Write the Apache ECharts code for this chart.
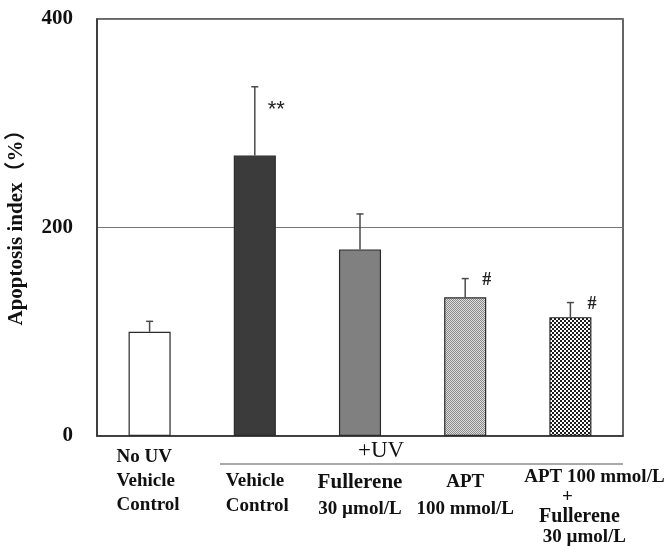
<!DOCTYPE html>
<html>
<head>
<meta charset="utf-8">
<script src="https://cdn.jsdelivr.net/npm/echarts@6/dist/echarts.min.js"></script>
<style>html,body{margin:0;padding:0;background:#fff}#c{width:669px;height:546px}</style>
</head>
<body>
<div id="c"></div>
<script>
const categories = ['No UV\nVehicle\nControl', 'Vehicle\nControl', 'Fullerene\n30 µmol/L', 'APT\n100 mmol/L', 'APT 100 mmol/L\n+\nFullerene\n30 µmol/L'];
const means = [100, 269, 179, 133, 114];
const errors = [10, 66, 34, 18, 14];
const significance = ['', '**', '', '#', '#'];
const yMin = 0, yMax = 400, yInterval = 200;
const groupLabel = '+UV';
const yName = 'Apoptosis index（%）';

function pattern(w, h, draw) {
  const c = document.createElement('canvas');
  c.width = w; c.height = h;
  const ctx = c.getContext('2d');
  draw(ctx);
  return { image: c, repeat: 'repeat' };
}
const aptFill = pattern(2, 2, ctx => {
  ctx.fillStyle = '#dedede'; ctx.fillRect(0, 0, 2, 2);
  ctx.fillStyle = '#8a8a8a'; ctx.fillRect(0, 0, 1, 1); ctx.fillRect(1, 1, 1, 1);
});
const comboFill = pattern(4, 4, ctx => {
  ctx.fillStyle = '#ffffff'; ctx.fillRect(0, 0, 4, 4);
  ctx.fillStyle = '#1e1e1e'; ctx.fillRect(0, 0, 2, 2); ctx.fillRect(2, 2, 2, 2);
});
const fills = ['#ffffff', '#3b3b3b', '#808080', aptFill, comboFill];

const serif = '"Liberation Serif", "Times New Roman", serif';
const rich = {
  g: { height: 24 },
  gs: { height: 22 },
  l: { fontFamily: serif, fontWeight: 'bold', fontSize: 19, lineHeight: 24, width: 66, align: 'left', color: '#111' },
  v: { fontFamily: serif, fontWeight: 'bold', fontSize: 19, lineHeight: 25, width: 66, align: 'left', color: '#111', padding: [0, 0, 0, 8] },
  big: { fontFamily: serif, fontWeight: 'bold', fontSize: 21, lineHeight: 27, color: '#111' },
  n: { fontFamily: serif, fontWeight: 'bold', fontSize: 19, lineHeight: 27, color: '#111' },
  c1: { fontFamily: serif, fontWeight: 'bold', fontSize: 19, lineHeight: 20, color: '#111', padding: [0, 0, 0, 48] },
  cp: { fontFamily: serif, fontWeight: 'bold', fontSize: 19, lineHeight: 20, color: '#111', padding: [0, 6, 0, 0] },
  c: { fontFamily: serif, fontWeight: 'bold', fontSize: 19, lineHeight: 20, color: '#111', padding: [0, 0, 0, 28] },
  cb: { fontFamily: serif, fontWeight: 'bold', fontSize: 20, lineHeight: 20, color: '#111', padding: [0, 0, 0, 18] }
};
const lineStyles = [
  ['l', 'l', 'l'],
  ['g', 'v', 'v'],
  ['g', 'big', 'n'],
  ['g', 'n', 'n'],
  ['gs', 'c1', 'cp', 'cb', 'c']
];

function fmt(value, index) {
  const lines = value.split('\n');
  const st = lineStyles[index];
  const out = [];
  let k = 0;
  if (st[0] === 'g' || st[0] === 'gs') { out.push('{' + st[0] + '|}'); k = 1; }
  lines.forEach((ln, i) => out.push('{' + st[i + k] + '|' + ln + '}'));
  return out.join('\n');
}

const chart = echarts.init(document.getElementById('c'), null, { renderer: 'canvas' });
chart.setOption({
  animation: false,
  backgroundColor: '#fff',
  grid: { left: 97, right: 46, top: 19, bottom: 110, containLabel: false, outerBoundsMode: 'none', show: true, borderColor: '#333', borderWidth: 1.5, backgroundColor: 'transparent' },
  xAxis: {
    type: 'category',
    data: categories,
    axisLine: { lineStyle: { color: '#333', width: 1.5 } },
    axisTick: { show: false },
    axisLabel: { interval: 0, margin: 9, formatter: fmt, rich: rich }
  },
  yAxis: {
    type: 'value', min: yMin, max: yMax, interval: yInterval,
    name: yName, nameLocation: 'middle', nameGap: 70, nameRotate: 90,
    nameTextStyle: { fontFamily: '"Liberation Serif", "Noto Sans CJK SC", serif', fontWeight: 'bold', fontSize: 21, color: '#111', padding: [0, 0, 0, 10] },
    axisLine: { show: true, lineStyle: { color: '#333', width: 1.5 } },
    axisTick: { show: false },
    splitLine: { lineStyle: { color: '#777', width: 1 } },
    axisLabel: { margin: 24, fontFamily: serif, fontWeight: 'bold', fontSize: 21, color: '#111' }
  },
  graphic: [
    { type: 'text', left: 358, top: 439, style: { text: groupLabel, fontFamily: serif, fontSize: 23, fill: '#111' } },
    { type: 'line', shape: { x1: 220, y1: 464, x2: 623, y2: 464 }, style: { stroke: '#555', lineWidth: 1.2 } }
  ],
  series: [
    {
      type: 'bar',
      barWidth: '40%',
      data: means.map((v, i) => ({ value: v, itemStyle: { color: fills[i] } })),
      itemStyle: { borderColor: '#2a2a2a', borderWidth: 1.2 },
      z: 2
    },
    {
      type: 'custom',
      z: 3,
      data: means.map((v, i) => [i, v, errors[i]]),
      renderItem: function (params, api) {
        const i = api.value(0), m = api.value(1), e = api.value(2);
        const p0 = api.coord([i, m]);
        const p1 = api.coord([i, m + e]);
        const children = [
          { type: 'line', shape: { x1: p0[0], y1: p0[1], x2: p1[0], y2: p1[1] }, style: { stroke: '#4a4a4a', lineWidth: 1.5 } },
          { type: 'line', shape: { x1: p1[0] - 3.5, y1: p1[1], x2: p1[0] + 3.5, y2: p1[1] }, style: { stroke: '#4a4a4a', lineWidth: 1.5 } }
        ];
        const s = significance[i];
        if (s === '**') {
          children.push({ type: 'text', style: { text: s, x: p1[0] + 13, y: p1[1] + 12, fontFamily: '"Liberation Sans", Arial, sans-serif', fontSize: 22, fill: '#222', textVerticalAlign: 'top' } });
        } else if (s) {
          children.push({ type: 'text', style: { text: s, x: p1[0] + 17, y: p1[1] + 2, fontFamily: serif, fontWeight: 'bold', fontSize: 18, fill: '#222', textVerticalAlign: 'middle' } });
        }
        return { type: 'group', children: children };
      }
    }
  ]
});
</script>
</body>
</html>
